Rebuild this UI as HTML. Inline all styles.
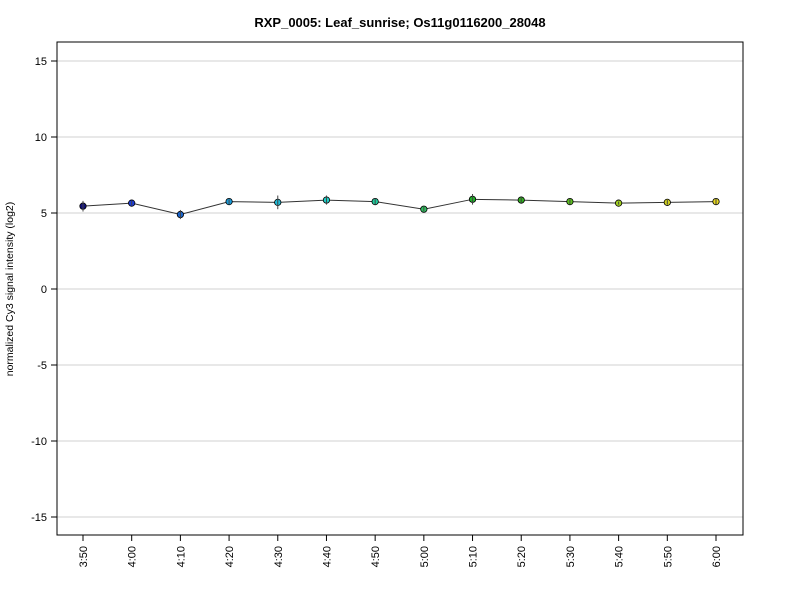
<!DOCTYPE html>
<html><head><meta charset="utf-8"><style>
body{margin:0;background:#fff;font-family:"Liberation Sans",Arial,sans-serif}
svg text{font-family:"Liberation Sans",Arial,sans-serif}
</style></head><body>
<svg id="chart" width="800" height="600" xmlns="http://www.w3.org/2000/svg">
<rect width="800" height="600" fill="#fff"/>
<text x="400" y="27" text-anchor="middle" font-size="13" font-weight="bold">RXP_0005: Leaf_sunrise; Os11g0116200_28048</text>
<text transform="translate(13,289) rotate(-90)" text-anchor="middle" font-size="10.5">normalized Cy3 signal intensity (log2)</text>
<g id="grid"></g><g id="axes"></g><g id="series"></g>
<rect x="57" y="42" width="686" height="493" fill="none" stroke="#000" stroke-width="1"/>
</svg>
<script>
const categories=["3:50","4:00","4:10","4:20","4:30","4:40","4:50","5:00","5:10","5:20","5:30","5:40","5:50","6:00"];
const values=[5.45,5.65,4.9,5.75,5.7,5.85,5.75,5.25,5.9,5.85,5.75,5.65,5.7,5.75];
const errors=[0.35,0.15,0.3,0.15,0.45,0.3,0.2,0.15,0.35,0.25,0.15,0.1,0.15,0.2];
const colors=["#10107a","#1a3ad8","#1a66d0","#1a9ad8","#20bcd8","#20d0c8","#20d0a0","#30c060","#20b028","#30b020","#5cc020","#a0d020","#d0d020","#e8d820"];
const yTicks=[-15,-10,-5,0,5,10,15];
const NS="http://www.w3.org/2000/svg";
const x=i=>83+i*(716-83)/(categories.length-1);
const y=v=>289-v*15.2;
function mk(t,a,p){const e=document.createElementNS(NS,t);for(const k in a)e.setAttribute(k,a[k]);p.appendChild(e);return e;}
const grid=document.getElementById('grid'),axes=document.getElementById('axes'),ser=document.getElementById('series');
yTicks.forEach(v=>{
 const g=mk('line',{x1:57,x2:743,y1:y(v),y2:y(v),stroke:'#d0d0d0','stroke-width':1},grid);
 
 
 const t=mk('line',{x1:51,x2:57,y1:y(v),y2:y(v),stroke:'#000'},axes);
 
 
 const l=mk('text',{x:47,y:y(v)+4,'text-anchor':'end','font-size':11},axes);
 l.textContent=v;
 
 
});
mk('line',{x1:x(0),x2:x(categories.length-1),y1:535,y2:535,stroke:'#000'},axes);
categories.forEach((c,i)=>{
 const t=mk('line',{x1:x(i),x2:x(i),y1:535,y2:541,stroke:'#000'},axes);
 
 
 const l=mk('text',{x:0,y:0,'text-anchor':'end','font-size':11,transform:`translate(${x(i)+4},546) rotate(-90)`},axes);
 l.textContent=c;
 
 
});
const line=mk('polyline',{points:values.map((v,i)=>x(i)+','+y(v)).join(' '),fill:'none',stroke:'#333','stroke-width':1},ser);


values.forEach((v,i)=>{
 const p=mk('circle',{cx:x(i),cy:y(v),r:3.2,fill:colors[i],stroke:'#000','stroke-width':0.8},ser);
 
 
 const e=mk('line',{x1:x(i),x2:x(i),y1:y(v+errors[i]),y2:y(v-errors[i]),stroke:'#444','stroke-width':1},ser);
 
 
});
</script>
</body></html>
